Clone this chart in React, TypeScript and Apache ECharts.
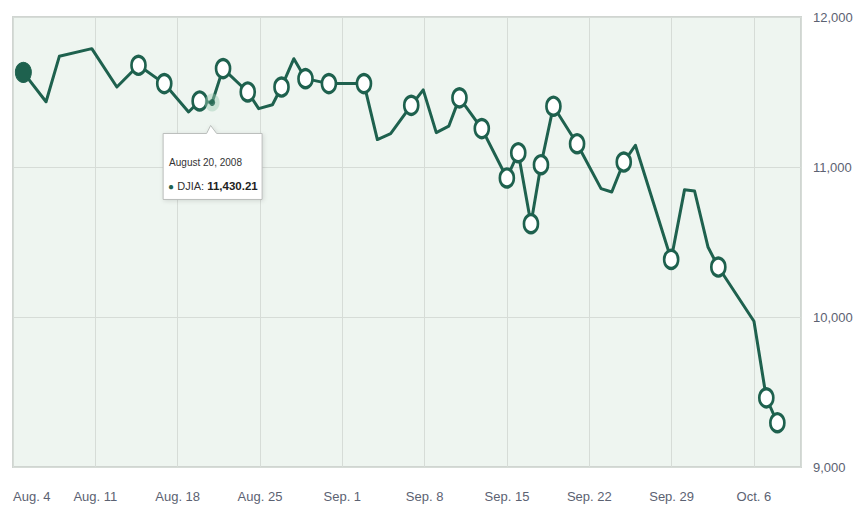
import React, { useEffect, useRef } from 'react';
import * as echarts from 'echarts';

// Days after Aug. 4, 2008 (calendar days) and DJIA values
const dayOffsets = [
  0.88, 2.81, 3.94, 6.7, 8.83, 10.67, 12.86, 14.93, 15.87, 16.93,
  17.86, 19.96, 20.89, 22.06, 22.83, 23.88, 24.87, 26.86, 29.84, 30.98,
  32.11, 33.86, 34.88, 35.99, 37.05, 37.96, 39.86, 41.99, 42.96, 44.04,
  44.89, 45.95, 47.96, 50.0, 50.91, 51.93, 52.92, 55.96, 57.1, 57.95,
  59.09, 59.97, 63.0, 64.05, 64.99,
];
const djiaValues = [
  11631, 11435, 11738, 11789, 11533, 11678, 11556, 11367, 11440, 11430.21,
  11656, 11500, 11389, 11415, 11533, 11722, 11589, 11556, 11556, 11183,
  11222, 11411, 11514, 11229, 11272, 11461, 11256, 10927, 11095, 10622,
  11015, 11405, 11155, 10856, 10833, 11033, 11145, 10384, 10849, 10840,
  10467, 10333, 9972, 9461, 9295,
];
// marker kind per point: f = filled start, c = open circle, h = hovered, '' = none
const markerKinds = [
  'f', '', '', '', '', 'c', 'c', '', 'c', 'h',
  'c', 'c', '', '', 'c', '', 'c', 'c', 'c', '',
  '', 'c', '', '', '', 'c', 'c', 'c', 'c', 'c',
  'c', 'c', 'c', '', '', 'c', '', 'c', '', '',
  '', 'c', '', 'c', 'c',
];
const xTickLabels = ['Aug. 4', 'Aug. 11', 'Aug. 18', 'Aug. 25', 'Sep. 1', 'Sep. 8', 'Sep. 15', 'Sep. 22', 'Sep. 29', 'Oct. 6'];
const seriesName = 'DJIA';
const hoverIndex = 9;
const hoverDate = 'August 20, 2008';

const GREEN = '#1e614e';
const FONT = '"Liberation Sans", Arial, sans-serif';

export default function App() {
  const ref = useRef<HTMLDivElement>(null);
  useEffect(() => {
    if (!ref.current) return;
    const chart = echarts.init(ref.current, null, { renderer: 'svg' });
    const lineData = dayOffsets.map((d, i) => {
      const k = markerKinds[i];
      if (k === 'c') {
        return {
          value: [d, djiaValues[i]],
          symbol: 'circle',
          symbolSize: [14, 18],
          itemStyle: { color: '#ffffff', borderColor: GREEN, borderWidth: 3 },
        };
      }
      if (k === 'f') {
        return {
          value: [d, djiaValues[i]],
          symbol: 'circle',
          symbolSize: [16, 20],
          itemStyle: { color: GREEN, borderColor: GREEN, borderWidth: 1 },
        };
      }
      return { value: [d, djiaValues[i]], symbol: 'none' };
    });
    chart.setOption({
      animation: false,
      backgroundColor: '#ffffff',
      grid: {
        left: 13,
        right: 52,
        top: 17,
        bottom: 45,
        show: true,
        outerBoundsMode: 'none',
        containLabel: false,
        backgroundColor: '#eef5f0',
        borderColor: '#d0d5d1',
        borderWidth: 2,
      },
      xAxis: {
        type: 'value',
        min: 0,
        max: 67,
        interval: 7,
        axisLine: { show: false },
        axisTick: { show: false },
        splitLine: { show: true, lineStyle: { color: '#d6dcd7', width: 1 } },
        axisLabel: {
          margin: 23,
          fontSize: 13,
          fontFamily: FONT,
          color: '#5c6272',
          alignMinLabel: 'left',
          formatter: (v: number) => {
            const idx = Math.round(v / 7);
            return Math.abs(v - idx * 7) < 1e-6 && xTickLabels[idx] ? xTickLabels[idx] : '';
          },
        },
      },
      yAxis: {
        type: 'value',
        position: 'right',
        min: 9000,
        max: 12000,
        interval: 1000,
        axisLine: { show: false },
        axisTick: { show: false },
        splitLine: { show: true, lineStyle: { color: '#d6dcd7', width: 1 } },
        axisLabel: {
          margin: 12,
          fontSize: 13,
          fontFamily: FONT,
          color: '#5c6272',
          align: 'left',
          padding: [8, 0, 0, 0],
          formatter: (v: number) => v.toLocaleString('en-US'),
        },
      },
      series: [
        {
          type: 'line',
          name: seriesName,
          data: lineData,
          showAllSymbol: true,
          symbol: 'none',
          lineStyle: { color: GREEN, width: 3, join: 'round' },
          itemStyle: { color: GREEN },
          z: 3,
        },
        {
          type: 'scatter',
          data: [[dayOffsets[hoverIndex], djiaValues[hoverIndex]]],
          symbol: 'circle',
          symbolSize: [15, 18],
          itemStyle: { color: 'rgba(160,205,180,0.55)' },
          z: 4,
          silent: true,
        },
        {
          type: 'scatter',
          data: [[dayOffsets[hoverIndex], djiaValues[hoverIndex]]],
          symbol: 'circle',
          symbolSize: [6, 7],
          itemStyle: { color: GREEN },
          z: 5,
          silent: true,
        },
      ],
    });

    const [px, py] = chart.convertToPixel({ gridIndex: 0 }, [dayOffsets[hoverIndex], djiaValues[hoverIndex]]) as number[];
    const L = px - 49, R = px + 50, T = py + 31, B = py + 97;
    const tipX = px - 1.5, tipY = py + 23;
    const valueText = djiaValues[hoverIndex].toLocaleString('en-US', { minimumFractionDigits: 2, maximumFractionDigits: 2 });
    chart.setOption({
      graphic: [
        {
          type: 'polygon',
          shape: {
            points: [[L, T], [tipX - 4, T], [tipX, tipY], [tipX + 6, T], [R, T], [R, B], [L, B]],
          },
          style: {
            fill: '#ffffff',
            stroke: '#b9bdba',
            lineWidth: 1,
            shadowBlur: 4,
            shadowColor: 'rgba(0,0,0,0.12)',
            shadowOffsetX: 1,
            shadowOffsetY: 1,
          },
          z: 100,
        },
        {
          type: 'text',
          x: L + 6,
          y: py + 60,
          style: {
            text: hoverDate,
            font: `10px ${FONT}`,
            fill: '#333333',
            verticalAlign: 'middle',
          },
          z: 101,
        },
        {
          type: 'text',
          x: L + 5,
          y: py + 84,
          style: {
            text: `{b|●} ${seriesName}: {v|${valueText}}`,
            font: `11px ${FONT}`,
            fill: '#333333',
            verticalAlign: 'middle',
            rich: {
              b: { fontSize: 10, fill: GREEN, fontFamily: FONT },
              v: { fontSize: 11.5, fontWeight: 'bold', fill: '#222222', fontFamily: FONT },
            },
          },
          z: 101,
        },
      ],
    });
    return () => chart.dispose();
  }, []);
  return <div ref={ref} style={{ position: 'fixed', left: 0, top: 0, width: 853, height: 512 }} />;
}
